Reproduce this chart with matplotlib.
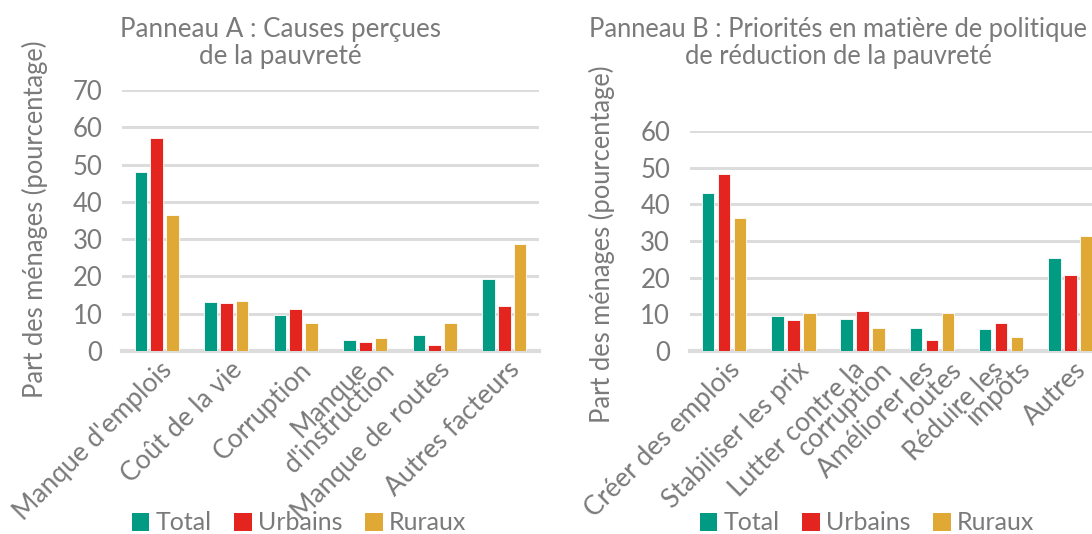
import matplotlib
matplotlib.use("Agg")
import matplotlib.pyplot as plt
import matplotlib.transforms as mtrans
from matplotlib.patches import Patch
import numpy as np

plt.rcParams['font.family'] = ['Lato', 'DejaVu Sans']

series = ['Total', 'Urbains', 'Ruraux']
colors = ['#009B82', '#E3241F', '#E0A935']

# Panneau A : causes perçues de la pauvreté
cats_a = ["Manque d'emplois", "Coût de la vie", "Corruption",
          "Manque\nd'instruction", "Manque de routes", "Autres facteurs"]
total_a = [48.1, 13.1, 9.7, 2.9, 4.3, 19.4]
urbains_a = [57.1, 12.9, 11.3, 2.3, 1.7, 12.1]
ruraux_a = [36.6, 13.3, 7.4, 3.6, 7.6, 28.6]

# Panneau B : priorités de politique
cats_b = ["Créer des emplois", "Stabiliser les prix", "Lutter contre la\ncorruption",
          "Améliorer les\nroutes", "Réduire les\nimpôts", "Autres"]
total_b = [43.1, 9.5, 8.8, 6.4, 6.0, 25.5]
urbains_b = [48.2, 8.5, 10.8, 3.1, 7.6, 20.7]
ruraux_b = [36.4, 10.5, 6.2, 10.5, 3.7, 31.5]

grey = '#7A7A7A'
W, H = 1092, 534
fig = plt.figure(figsize=(W / 100, H / 100), dpi=100)


def panel(rect, cats, vals, ymax, title_x, title, title_size):
    ax = fig.add_axes(rect)
    x = np.arange(len(cats))
    step = 0.23
    for i, v in enumerate(vals):
        ax.bar(x + (i - 1) * step, v, width=0.18, color=colors[i],
               edgecolor='white', linewidth=0.6, zorder=3)
    ax.set_xlim(-0.5, len(cats) - 0.5)
    ax.set_ylim(0, ymax)
    ax.set_yticks(range(0, ymax + 1, 10))
    ax.yaxis.grid(True, color='#DCDCDC', linewidth=2.2, zorder=0)
    ax.set_axisbelow(True)
    for s in ['top', 'right', 'left']:
        ax.spines[s].set_visible(False)
    ax.spines['bottom'].set_color('#DCDCDC')
    ax.spines['bottom'].set_linewidth(3)
    ax.tick_params(axis='y', length=0, pad=14, labelsize=18.5, labelcolor=grey)
    ax.set_xticks(x)
    ax.set_xticklabels([])
    ax.tick_params(axis='x', length=0)
    # rotated category labels, each line hung from the axis like Excel does
    base = ax.get_xaxis_transform()
    for xi, cat in zip(x, cats):
        lines = cat.split('\n')
        n = len(lines)
        for k, line in enumerate(lines):
            dx = 3 + (k - (n - 1) / 2) * 27
            tr = mtrans.offset_copy(base, fig=fig, x=dx, y=-6, units='dots')
            ax.text(xi, 0, line, transform=tr, rotation=45, ha='right',
                    va='top', rotation_mode='anchor', fontsize=19, color=grey,
                    clip_on=False)
    fig.text(title_x / W, 1 - 43 / H, title, ha='center', va='center',
             fontsize=title_size, color=grey, linespacing=1.12)
    return ax


panel([122 / W, 1 - 351 / H, 417 / W, 261 / H], cats_a,
      [total_a, urbains_a, ruraux_a], 70, 280,
      "Panneau A : Causes perçues\nde la pauvreté", 18.7)
panel([689.5 / W, 1 - 351 / H, 415.5 / W, 220 / H], cats_b,
      [total_b, urbains_b, ruraux_b], 60, 838,
      "Panneau B : Priorités en matière de politique\nde réduction de la pauvreté", 18.4)

fig.text(35 / W, 1 - 219 / H, "Part des ménages (pourcentage)", rotation=90,
         ha='center', va='center', fontsize=18.4, color=grey)
fig.text(602 / W, 1 - 244 / H, "Part des ménages (pourcentage)", rotation=90,
         ha='center', va='center', fontsize=18.4, color=grey)

handles = [Patch(facecolor=c, label=s) for c, s in zip(colors, series)]
for cx in (299, 867):
    leg = fig.legend(handles=handles, loc='center', ncol=3, frameon=False,
                     bbox_to_anchor=(cx / W, 1 - 523 / H), fontsize=18,
                     handlelength=0.7, handleheight=0.7, handletextpad=0.25,
                     columnspacing=0.9, borderaxespad=0)
    for t in leg.get_texts():
        t.set_color(grey)

fig.savefig('out.png', dpi=100)
